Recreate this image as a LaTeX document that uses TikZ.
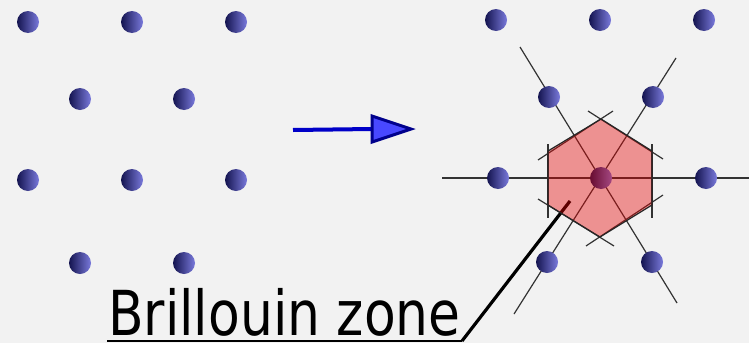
\documentclass[tikz,border=0pt]{standalone}
\usepackage{fontspec}
\newfontfamily\zonefont{DejaVu Sans}
\definecolor{pageGray}{HTML}{F2F2F2}
\definecolor{siteDark}{HTML}{141450}
\definecolor{siteLight}{HTML}{7A7ADC}
\definecolor{arrowShaft}{HTML}{0000C8}
\definecolor{arrowEdge}{HTML}{00008C}
\definecolor{arrowFill}{HTML}{4848FF}
\definecolor{zoneRed}{HTML}{E60000}
\tikzset{
  site/.style={circle, inner sep=0pt, minimum size=22pt, left color=siteDark, right color=siteLight},
  bisector/.style={line width=1.2pt, black!80},
}

\begin{document}
\begin{tikzpicture}[x=1pt, y=-1pt]
            \useasboundingbox (0,0) rectangle (749,343);
            \fill[pageGray] (0,0) rectangle (749,343);
            % real lattice
            \node[site] (a1) at (28,22) {};
            \node[site] (a2) at (132,22) {};
            \node[site] (a3) at (236,22) {};
            \node[site] (a4) at (80,99) {};
            \node[site] (a5) at (184,99) {};
            \node[site] (a6) at (28,180) {};
            \node[site] (a7) at (132,180) {};
            \node[site] (a8) at (236,180) {};
            \node[site] (a9) at (80,263) {};
            \node[site] (a10) at (184,263) {};
            % arrow
            \coordinate (tail) at (293,130);
            \coordinate (base) at (372,129);
            \draw[line width=4pt, arrowShaft] (tail) -- (base);
            \draw[line width=3pt, arrowEdge, fill=arrowFill, line join=miter] (372,116) -- (411,129) -- (372,142) -- cycle;
            % lines through the centre
            \draw[bisector] (442,178) -- (749,178);
            \draw[bisector] (520,47) -- (677,303);
            \draw[bisector] (676,58) -- (514,314);
            % bisector pieces
            \draw[bisector] (548,144) -- (548,218);
            \draw[bisector] (652,144) -- (652,218);
            \draw[bisector] (538,160) -- (613,111);
            \draw[bisector] (588,111) -- (663,159);
            \draw[bisector] (538,199) -- (614,246);
            \draw[bisector] (663,195) -- (586,246);
            % label
            \node[anchor=base west, inner sep=0pt, text depth=0pt] (bz) at (108,335) {\scalebox{0.837}[1]{\zonefont\fontsize{62}{70}\selectfont Brillouin zone}};
            \coordinate (ul) at (107,341);
            \coordinate (bend) at (462,341);
            \coordinate (tip) at (570,201);
            \draw[line width=2pt] (ul) -- (bend);
            \draw[line width=3.2pt] (bend) -- (tip);
            % reciprocal lattice
            \node[site] (b1) at (496,20) {};
            \node[site] (b2) at (600,20) {};
            \node[site] (b3) at (704,20) {};
            \node[site] (b4) at (549,97) {};
            \node[site] (b5) at (653,97) {};
            \node[site] (b6) at (498,178) {};
            \node[site] (b7) at (601,178) {};
            \node[site] (b8) at (706,178) {};
            \node[site] (b9) at (547,262) {};
            \node[site] (b10) at (652,262) {};
            % first zone
            \filldraw[fill=zoneRed, fill opacity=0.4, draw=black!85, line width=1.2pt, line join=round]
              (601,119) -- (652,151) -- (652,205) -- (600,237) -- (548,205) -- (548,151) -- cycle;
        \end{tikzpicture}
\end{document}
